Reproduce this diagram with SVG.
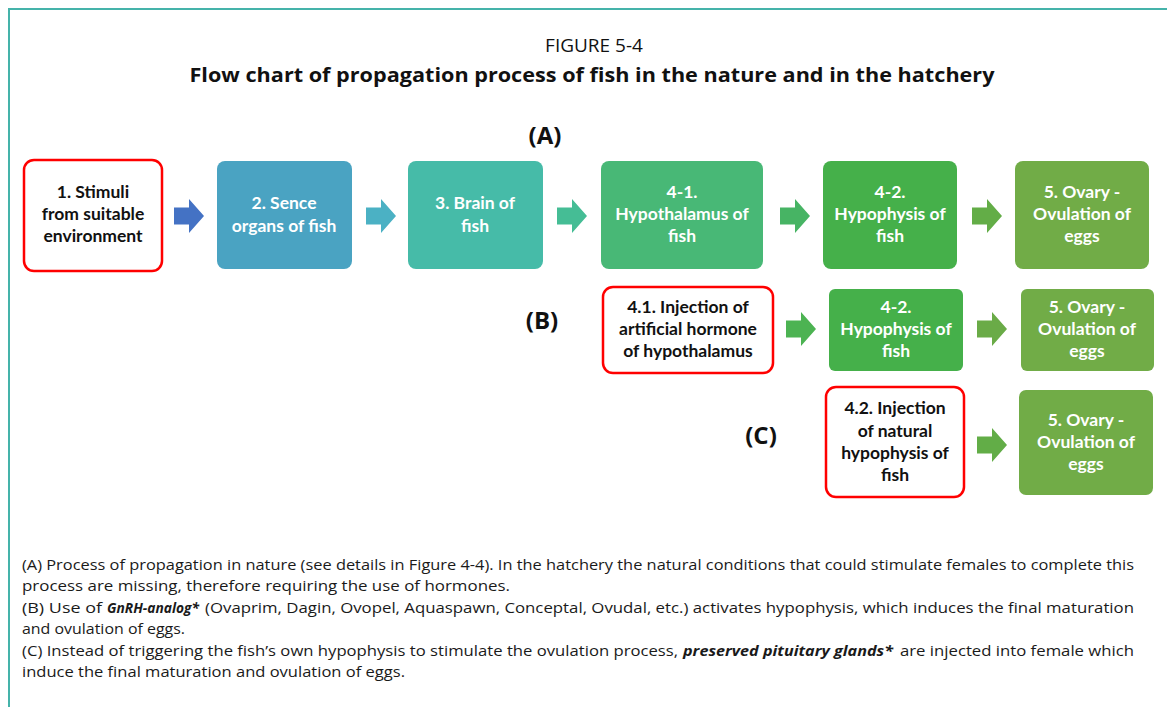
<svg xmlns="http://www.w3.org/2000/svg" width="1167" height="707" viewBox="0 0 1167 707">
<style>
.frame{stroke:#45b3aa;stroke-width:2;fill:none}
.red{fill:#fff;stroke:#ff0000;stroke-width:2.5}
.bt{font-family:Lato,"Liberation Sans",sans-serif;font-weight:700;font-size:17.5px;text-anchor:middle}
.w{fill:#fff}
.k{fill:#111}
.lbl{font-family:"Open Sans","Liberation Sans",sans-serif;font-weight:700;font-size:24px;fill:#111;text-anchor:middle}
.cap{font-family:"Open Sans","Liberation Sans",sans-serif;font-size:15px;fill:#1a1a1a}
.bi{font-weight:700;font-style:italic}
</style>
<defs>
<path id="arr" d="M0,-8.5 H15 V-17 L30,0 L15,17 V8.5 H0 Z"/>
</defs>
<rect width="1167" height="707" fill="#fff"/>
<path class="frame" d="M9,707 V9 H1167"/>
<text x="594" y="52" font-family="'Open Sans','Liberation Sans',sans-serif" font-size="19" fill="#111" text-anchor="middle">FIGURE 5-4</text>
<text x="592" y="82" font-family="'Open Sans','Liberation Sans',sans-serif" font-size="20" font-weight="700" fill="#111" text-anchor="middle" textLength="805" lengthAdjust="spacingAndGlyphs">Flow chart of propagation process of fish in the nature and in the hatchery</text>
<text class="lbl" x="545" y="144">(A)</text>
<text class="lbl" x="542" y="329">(B)</text>
<text class="lbl" x="761" y="444">(C)</text>
<g id="connectors">
<use href="#arr" x="174" y="216" fill="#4472c4"/>
<use href="#arr" x="366" y="216" fill="#4bb1c4"/>
<use href="#arr" x="557" y="216" fill="#45bd95"/>
<use href="#arr" x="780" y="216" fill="#47b464"/>
<use href="#arr" x="972" y="216" fill="#63ad47"/>
<use href="#arr" x="786" y="329" fill="#4cb352"/>
<use href="#arr" x="977" y="329" fill="#6aab47"/>
<use href="#arr" x="977" y="445" fill="#62ad47"/>
</g>
<g id="a1"><rect class="red" x="24" y="160" width="138" height="111" rx="10"/>
<text class="bt k" x="93" y="198">1. Stimuli</text><text class="bt k" x="93" y="220">from suitable</text><text class="bt k" x="93" y="242">environment</text></g>
<g id="a2"><rect x="217" y="161" width="135" height="108" rx="8" fill="#4aa3c2"/>
<text class="bt w" x="284" y="209">2. Sence</text><text class="bt w" x="284" y="232">organs of fish</text></g>
<g id="a3"><rect x="408" y="161" width="135" height="108" rx="8" fill="#46bba8"/>
<text class="bt w" x="475" y="209">3. Brain of</text><text class="bt w" x="475" y="232">fish</text></g>
<g id="a4"><rect x="601" y="161" width="162" height="108" rx="8" fill="#48b876"/>
<text class="bt w" x="682" y="198">4-1.</text><text class="bt w" x="682" y="220">Hypothalamus of</text><text class="bt w" x="682" y="242">fish</text></g>
<g id="a5"><rect x="823" y="161" width="134" height="108" rx="8" fill="#45b04a"/>
<text class="bt w" x="890" y="198">4-2.</text><text class="bt w" x="890" y="220">Hypophysis of</text><text class="bt w" x="890" y="242">fish</text></g>
<g id="a6"><rect x="1015" y="161" width="134" height="108" rx="8" fill="#71ac47"/>
<text class="bt w" x="1082" y="198">5. Ovary -</text><text class="bt w" x="1082" y="220">Ovulation of</text><text class="bt w" x="1082" y="242">eggs</text></g>
<g id="b1"><rect class="red" x="603" y="287" width="170" height="86" rx="10"/>
<text class="bt k" x="688" y="313">4.1. Injection of</text><text class="bt k" x="688" y="335">artificial hormone</text><text class="bt k" x="688" y="357">of hypothalamus</text></g>
<g id="b2"><rect x="829" y="289" width="134" height="82" rx="6" fill="#45b04a"/>
<text class="bt w" x="896" y="313">4-2.</text><text class="bt w" x="896" y="335">Hypophysis of</text><text class="bt w" x="896" y="357">fish</text></g>
<g id="b3"><rect x="1021" y="289" width="133" height="82" rx="6" fill="#71ac47"/>
<text class="bt w" x="1087" y="313">5. Ovary -</text><text class="bt w" x="1087" y="335">Ovulation of</text><text class="bt w" x="1087" y="357">eggs</text></g>
<g id="c1"><rect class="red" x="826" y="387" width="138" height="110" rx="10"/>
<text class="bt k" x="895" y="414">4.2. Injection</text><text class="bt k" x="895" y="437">of natural</text><text class="bt k" x="895" y="459">hypophysis of</text><text class="bt k" x="895" y="481">fish</text></g>
<g id="c2"><rect x="1019" y="390" width="134" height="105" rx="7" fill="#71ac47"/>
<text class="bt w" x="1086" y="426">5. Ovary -</text><text class="bt w" x="1086" y="448">Ovulation of</text><text class="bt w" x="1086" y="470">eggs</text></g>
<g id="caption">
<text class="cap" x="22" y="570" textLength="1112" lengthAdjust="spacingAndGlyphs">(A) Process of propagation in nature (see details in Figure 4-4). In the hatchery the natural conditions that could stimulate females to complete this</text>
<text class="cap" x="22" y="591" textLength="488" lengthAdjust="spacingAndGlyphs">process are missing, therefore requiring the use of hormones.</text>
<text class="cap" x="22" y="613" textLength="80" lengthAdjust="spacingAndGlyphs">(B) Use of</text>
<text class="cap bi" x="107" y="613" textLength="92" lengthAdjust="spacingAndGlyphs">GnRH-analog*</text>
<text class="cap" x="205" y="613" textLength="929" lengthAdjust="spacingAndGlyphs">(Ovaprim, Dagin, Ovopel, Aquaspawn, Conceptal, Ovudal, etc.) activates hypophysis, which induces the final maturation</text>
<text class="cap" x="22" y="634" textLength="163" lengthAdjust="spacingAndGlyphs">and ovulation of eggs.</text>
<text class="cap" x="22" y="656" textLength="656" lengthAdjust="spacingAndGlyphs">(C) Instead of triggering the fish’s own hypophysis to stimulate the ovulation process,</text>
<text class="cap bi" x="683" y="656" textLength="210" lengthAdjust="spacingAndGlyphs">preserved pituitary glands*</text>
<text class="cap" x="900" y="656" textLength="234" lengthAdjust="spacingAndGlyphs">are injected into female which</text>
<text class="cap" x="22" y="677" textLength="383" lengthAdjust="spacingAndGlyphs">induce the final maturation and ovulation of eggs.</text>
</g>
</svg>
